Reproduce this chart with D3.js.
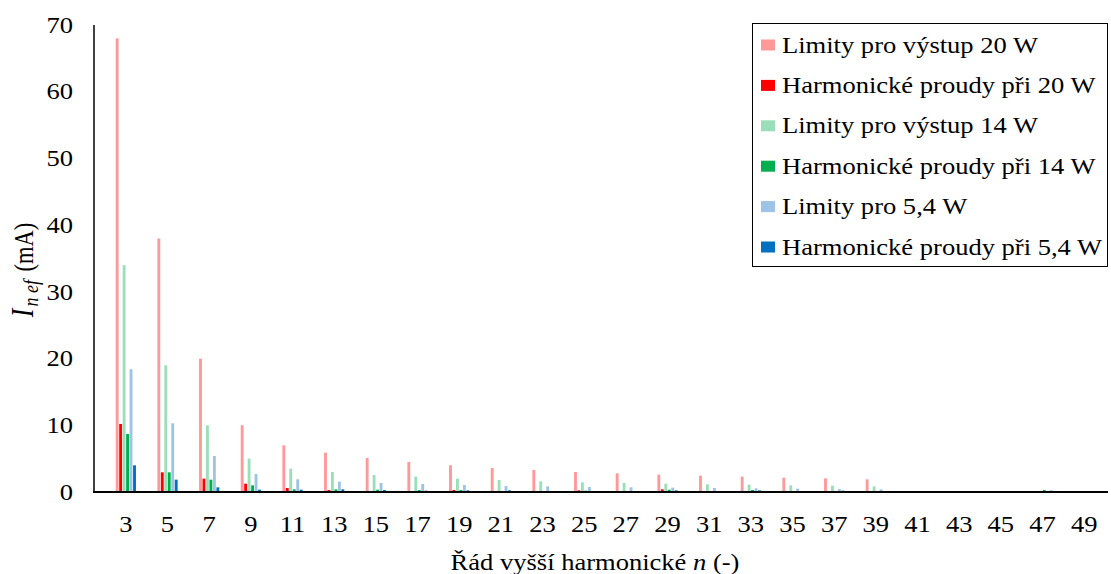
<!DOCTYPE html>
<html>
<head>
<meta charset="utf-8">
<script src="https://cdn.jsdelivr.net/npm/d3@7"></script>
</head>
<body style="margin:0;background:#fff">
<svg id="graf" width="1111" height="574" font-family="Liberation Serif"></svg>
<script>
// rady harmonickych
const rady = [3,5,7,9,11,13,15,17,19,21,23,25,27,29,31,33,35,37,39,41,43,45,47,49];

// hodnoty (mA)
const limity20 = [68,38,20,10,7,5.9,5.1,4.5,4.0,3.6,3.3,3.0,2.8,2.6,2.45,2.3,2.15,2.05,1.9,0,0,0,0,0];
const proudy20 = [10.2,2.95,2.0,1.25,0.6,0.3,0.05,0.05,0.3,0.05,0.1,0.25,0.05,0.4,0.05,0.1,0.05,0.05,0.05,0.05,0.02,0.02,0.1,0.05];
const limity14 = [34,19,10,5,3.5,3.0,2.55,2.3,2.0,1.8,1.6,1.45,1.35,1.25,1.15,1.1,1.0,0.95,0.85,0,0,0,0,0];
const proudy14 = [8.7,2.95,1.85,1.0,0.4,0.4,0.35,0.3,0.3,0.1,0.1,0.2,0.1,0.35,0.1,0.3,0.1,0.1,0.05,0.05,0.02,0.05,0.3,0.02];
const limity54 = [18.4,10.3,5.4,2.7,1.9,1.55,1.35,1.2,1.05,0.9,0.85,0.75,0.7,0.65,0.6,0.55,0.5,0.45,0.4,0,0,0,0,0];
const proudy54 = [4.0,1.85,0.7,0.35,0.35,0.4,0.3,0.2,0.25,0.25,0.1,0.1,0.05,0.25,0.05,0.25,0.1,0.2,0.05,0.05,0.05,0.1,0.2,0.02];

const yTicks = [0,10,20,30,40,50,60,70];

const serie = [
  {nazev:'Limity pro výstup 20 W', barva:'#ff9999', data:limity20},
  {nazev:'Harmonické proudy při 20 W', barva:'#ff0000', data:proudy20},
  {nazev:'Limity pro výstup 14 W', barva:'#9bdfb9', data:limity14},
  {nazev:'Harmonické proudy při 14 W', barva:'#00b050', data:proudy14},
  {nazev:'Limity pro 5,4 W', barva:'#9dc3e6', data:limity54},
  {nazev:'Harmonické proudy při 5,4 W', barva:'#0070c0', data:proudy54}
];

const velikost = 22.5;  // vyska pisma
const roztah = 1.18;    // obrazek je vodorovne roztazeny

const svg = d3.select('#graf');

const x = d3.scaleBand().domain(rady).range([105,1105]).padding(0);
const x1 = d3.scaleBand().domain(serie.map(s => s.nazev)).range([0, x.bandwidth()*0.5]).padding(0);
const y = d3.scaleLinear().domain([0,70]).range([492,25]);

// sloupce
serie.forEach(s => {
  svg.append('g').selectAll('rect')
    .data(rady.map((r,i) => ({r:r, v:s.data[i]})))
    .join('rect')
    .attr('x', d => x(d.r) + x.bandwidth()*0.25 + x1(s.nazev) + 0.3)
    .attr('width', x1.bandwidth() - 0.6)
    .attr('y', d => y(d.v))
    .attr('height', d => y(0) - y(d.v))
    .attr('fill', s.barva);
});

// osa y - popisky
const osaY = svg.append('g').attr('transform','translate(94,0)')
  .call(d3.axisLeft(y).tickValues(yTicks).tickSize(0));
osaY.select('.domain').remove();
osaY.attr('font-family','Liberation Serif').attr('font-size',velikost);
osaY.selectAll('text').attr('fill','#000')
  .attr('x', -21/roztah).attr('transform',`scale(${roztah},1)`);

// osa x - popisky
const osaX = svg.append('g').attr('transform','translate(0,492)')
  .call(d3.axisBottom(x).tickSize(0).tickPadding(24));
osaX.select('.domain').remove();
osaX.attr('font-family','Liberation Serif').attr('font-size',velikost);
osaX.selectAll('text').attr('fill','#000').attr('transform',`scale(${roztah},1)`);

// cary os
svg.append('line').attr('x1',94).attr('y1',25).attr('x2',94).attr('y2',492)
  .attr('stroke','#000').attr('stroke-width',1.5);
svg.append('line').attr('x1',93).attr('y1',492).attr('x2',1108).attr('y2',492)
  .attr('stroke','#000').attr('stroke-width',2);

// nazev osy x
const tx = svg.append('text').attr('transform',`translate(595,570) scale(${roztah},1)`)
  .attr('text-anchor','middle').attr('font-size',velikost);
tx.append('tspan').text('Řád vyšší harmonické ');
tx.append('tspan').attr('font-style','italic').text('n');
tx.append('tspan').text(' (-)');

// nazev osy y
const ty = svg.append('text').attr('transform',`translate(33,270) scale(${roztah},1) rotate(-90)`)
  .attr('text-anchor','middle').attr('font-size',velikost);
ty.append('tspan').attr('font-style','italic').attr('font-size',26).text('I');
ty.append('tspan').attr('font-style','italic').attr('font-size',18).attr('dx',2).attr('dy',4).text('n ef');
ty.append('tspan').attr('dy',-4).attr('dx',3).text(' (mA)');

// legenda
const leg = svg.append('g');
leg.append('rect').attr('x',752.5).attr('y',23.5).attr('width',355).attr('height',243)
  .attr('fill','#fff').attr('stroke','#000').attr('stroke-width',1);
serie.forEach((s,i) => {
  const cy = 45 + i*40.4;
  leg.append('rect').attr('x',761).attr('y',cy-5.5).attr('width',14).attr('height',11).attr('fill',s.barva);
  leg.append('text').attr('transform',`translate(782,${cy+7.5}) scale(${roztah},1)`)
    .attr('font-size',velikost).attr('fill','#000').text(s.nazev);
});
</script>
</body>
</html>
